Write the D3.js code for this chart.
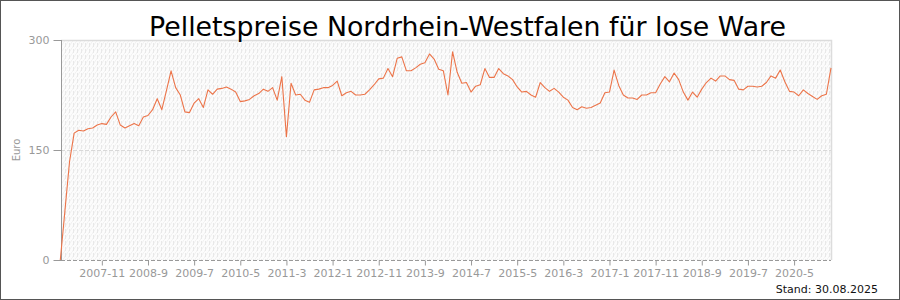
<!DOCTYPE html>
<html><head><meta charset="utf-8">
<script src="https://cdn.jsdelivr.net/npm/d3@7/dist/d3.min.js"></script>
<style>html,body{margin:0;padding:0;background:#fff}svg{display:block}</style>
</head><body>
<script>
const title = "Pelletspreise Nordrhein-Westfalen für lose Ware";
const startMonth = "2007-2";
const prices = [0,67,134,173,177,176,179,180,184,186,185,195,202,184,180,183,186,183,195,197,
205,220,205,231,258,235,225,202,201,214,220,208,232,226,233,234,236,233,229,216,
217,219,224,227,233,230,235,218,250,168,241,225,226,218,215,232,233,235,235,238,
244,224,228,230,225,225,226,232,239,247,248,261,250,275,277,258,258,262,267,269,
281,274,260,258,225,284,256,241,242,229,237,239,261,249,249,261,254,251,246,236,
229,230,225,222,242,235,230,234,229,222,218,208,205,209,207,208,211,214,228,229,
259,238,225,221,221,219,225,225,228,228,240,250,243,255,246,229,218,229,222,233,
242,248,244,251,251,246,245,233,232,237,237,236,237,242,251,248,259,243,230,229,
224,232,227,223,219,224,226,262];
const xTickLabels = ["2007-11","2008-9","2009-7","2010-5","2011-3","2012-1","2012-11","2013-9",
"2014-7","2015-5","2016-3","2017-1","2017-11","2018-9","2019-7","2020-5"];
const yTicks = [0,150,300];
const yLabel = "Euro";
const standText = "Stand: 30.08.2025";

const W=900,H=300;
const m={l:61,r:831,t:40,b:260};
const [sy,sm]=startMonth.split("-").map(Number);
const monthIndex = s => { const [y,mo]=s.split("-").map(Number); return (y-sy)*12+(mo-sm); };

const svg=d3.select("body").append("svg").attr("width",W).attr("height",H)
  .style("font-family","'DejaVu Sans',Verdana,sans-serif");

const defs=svg.append("defs");
const pat=defs.append("pattern").attr("id","hatch").attr("patternUnits","userSpaceOnUse")
  .attr("width",4).attr("height",6);
pat.append("rect").attr("width",4).attr("height",6).attr("fill","#fcfcfc");
pat.append("line").attr("x1",0).attr("y1",6).attr("x2",4).attr("y2",0).attr("stroke","#f1f1f1").attr("stroke-width",1);
pat.append("line").attr("x1",1.5).attr("y1",1).attr("x2",1.5).attr("y2",5).attr("stroke","#e8e8e8").attr("stroke-width",1);

const x=d3.scaleLinear().domain([0,prices.length-1]).range([m.l-0.7,m.r]);
const y=d3.scaleLinear().domain([0,300]).range([m.b,m.t]);

// outer frame
svg.append("rect").attr("x",0.5).attr("y",0.5).attr("width",W-1).attr("height",H-1)
  .attr("fill","none").attr("stroke","#555").attr("stroke-width",1);

// plot background
svg.append("rect").attr("x",m.l).attr("y",m.t).attr("width",m.r-m.l).attr("height",m.b-m.t)
  .attr("fill","url(#hatch)");
// top/right light border
svg.append("path").attr("d",`M${m.l},${m.t+0.5}H${m.r+0.5}V${m.b}`).attr("fill","none")
  .attr("stroke","#dcdcdc").attr("stroke-width",1.5);

// grid at 150
svg.append("line").attr("x1",m.l).attr("x2",m.r).attr("y1",y(150)+0.5).attr("y2",y(150)+0.5)
  .attr("stroke","#d8d8d8").attr("stroke-dasharray","4,2");

// y axis
const yAxis=d3.axisLeft(y).tickValues(yTicks).tickSize(8).tickPadding(4);
const gy=svg.append("g").attr("transform",`translate(${m.l+0.5},0)`).call(yAxis);
gy.select(".domain").attr("stroke","#999").attr("d",`M0,${m.t}V${m.b}`);
gy.selectAll(".tick line").attr("stroke","#999");
gy.selectAll(".tick text").attr("fill","#999").style("font-size","11px").style("font-family","'DejaVu Sans',Verdana,sans-serif");

// x axis
const xAxis=d3.axisBottom(x).tickValues(xTickLabels.map(monthIndex))
  .tickFormat((d,i)=>xTickLabels[i]).tickSize(5).tickPadding(4);
const gx=svg.append("g").attr("transform",`translate(0,${m.b+0.5})`).call(xAxis);
gx.select(".domain").attr("stroke","#999").attr("stroke-dasharray","4,2").attr("d",`M${m.l},0H${m.r}`);
gx.selectAll(".tick line").attr("stroke","#999");
gx.selectAll(".tick text").attr("fill","#999").style("font-size","11px").style("font-family","'DejaVu Sans',Verdana,sans-serif");

// line
svg.append("path").datum(prices)
  .attr("d",d3.line().x((d,i)=>x(i)).y(d=>y(d)))
  .attr("fill","none").attr("stroke","#ec7449").attr("stroke-width",1.1).attr("stroke-linejoin","round");

// y label
svg.append("text").attr("transform",`translate(20,${(m.t+m.b)/2}) rotate(-90)`)
  .attr("text-anchor","middle").attr("fill","#999").style("font-size","10px").text(yLabel);

// title
svg.append("text").attr("x",467.5).attr("y",36).attr("text-anchor","middle")
  .attr("fill","#000").style("font-size","26.8px").text(title);

// stand
svg.append("text").attr("x",878).attr("y",293).attr("text-anchor","end")
  .attr("fill","#111").style("font-size","11px").text(standText);
</script>
</body></html>
